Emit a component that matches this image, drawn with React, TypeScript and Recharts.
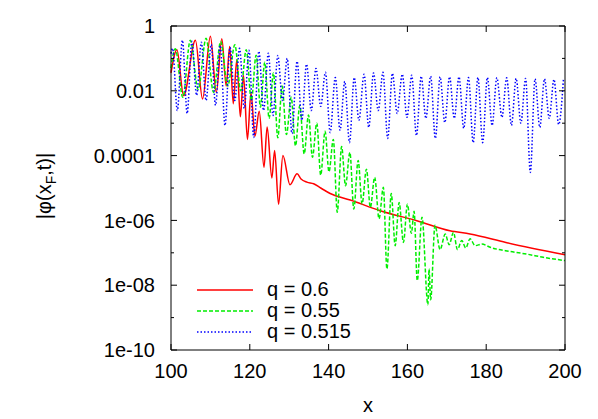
import React from "react";
import { LineChart, Line, XAxis, YAxis } from "recharts";

// [x, log10 |phi(x_F,t)|]
const q060: [number, number][] = [
  [100.0, -1.45], [101.5, -0.73], [103.2, -2.15], [106.2, -0.44], [108.0, -2.25],
  [110.0, -0.32], [111.5, -2.05], [112.9, -0.39], [114.0, -1.85], [114.9, -0.63],
  [115.8, -2.4], [116.7, -1.04], [117.6, -2.8], [118.4, -1.53], [119.4, -3.5],
  [120.3, -2.07], [121.3, -3.4], [122.4, -2.63], [123.6, -4.36], [124.4, -3.12],
  [125.6, -4.69], [126.3, -3.84], [127.3, -5.5], [128.4, -4.0], [130.2, -4.9],
  [132.0, -4.56], [133.0, -4.72], [134.5, -4.82], [136.2, -4.87], [138.0, -5.0],
  [140.4, -5.17], [145.5, -5.37], [153.1, -5.7], [162.4, -6.01], [170.8, -6.32],
  [175.9, -6.42], [185.0, -6.68], [200.0, -7.06],
];

const q055: [number, number][] = [
  [100.0, -1.3], [101.1, -0.7], [103.0, -2.2], [104.9, -0.44], [106.9, -1.96],
  [108.9, -0.38], [110.8, -2.05], [112.6, -0.48], [114.4, -1.85], [116.2, -0.58],
  [117.7, -2.0], [119.1, -0.73], [120.4, -2.3], [121.6, -0.9], [122.7, -2.5],
  [123.8, -1.12], [124.9, -2.85], [126.0, -1.45], [127.1, -3.45], [128.2, -1.85],
  [129.3, -3.35], [130.5, -2.2], [131.6, -3.7], [132.7, -2.45], [133.8, -3.95],
  [134.9, -2.75], [135.9, -4.05], [137.0, -3.0], [138.0, -4.6], [139.1, -3.25],
  [140.1, -4.5], [141.2, -3.5], [142.2, -5.75], [143.3, -3.72], [144.3, -4.93],
  [145.4, -3.9], [146.4, -5.65], [147.5, -4.15], [148.5, -5.49], [149.6, -4.42],
  [150.6, -5.6], [151.7, -4.67], [152.8, -5.95], [153.9, -4.98], [154.8, -7.5],
  [155.9, -5.17], [156.9, -6.78], [157.9, -5.45], [159.0, -6.68], [160.0, -5.5],
  [161.0, -6.4], [161.7, -5.72], [162.5, -7.86], [163.7, -5.9], [165.2, -8.6],
  [165.5, -7.5], [165.9, -8.45], [167.0, -6.15], [168.3, -6.9], [169.6, -6.42],
  [170.6, -6.75], [171.7, -6.37], [172.7, -6.9], [173.8, -6.62], [174.8, -6.85],
  [175.9, -6.57], [177.2, -6.78], [178.9, -6.73], [181.0, -6.83], [186.1, -6.96],
  [190.3, -7.04], [194.5, -7.14], [200.0, -7.24],
];

const q0515: [number, number][] = [
  [100.0, -0.85], [100.4, -0.69], [101.6, -2.61], [102.9, -0.44], [104.1, -2.7],
  [105.3, -0.47], [106.5, -2.14], [107.7, -0.5], [108.9, -2.3], [110.2, -0.57],
  [111.3, -2.45], [112.5, -0.6], [113.7, -3.07], [115.0, -0.66], [116.2, -2.3],
  [117.4, -0.69], [118.6, -2.54], [119.8, -0.75], [121.0, -3.44], [122.3, -0.78],
  [123.5, -2.61], [124.7, -0.84], [125.9, -2.76], [127.1, -0.91], [128.3, -2.3],
  [129.5, -1.0], [130.7, -3.32], [132.0, -1.09], [133.2, -2.91], [134.4, -1.18],
  [135.6, -2.61], [136.8, -1.31], [138.0, -2.48], [139.2, -1.43], [140.4, -3.29],
  [141.7, -1.59], [142.9, -3.22], [144.1, -1.71], [145.3, -3.6], [146.5, -1.59],
  [147.7, -2.91], [149.0, -1.49], [150.2, -3.13], [151.4, -1.45], [152.6, -2.61],
  [153.8, -1.43], [155.0, -3.47], [156.2, -1.46], [157.4, -2.7], [158.7, -1.49],
  [159.9, -2.82], [161.1, -1.52], [162.3, -3.38], [163.5, -1.55], [164.7, -2.85],
  [165.9, -1.55], [167.1, -3.47], [168.3, -1.57], [169.5, -2.98], [170.7, -1.57],
  [171.9, -2.85], [173.1, -1.57], [174.3, -3.16], [175.5, -1.59], [176.7, -3.6],
  [177.9, -1.59], [179.1, -3.6], [180.3, -1.59], [181.5, -3.07], [182.7, -1.6],
  [184.0, -2.82], [185.2, -1.6], [186.4, -3.07], [187.6, -1.62], [188.8, -3.0],
  [190.0, -1.62], [191.2, -4.52], [192.4, -1.63], [193.6, -3.13], [194.8, -1.63],
  [196.0, -2.85], [197.2, -1.65], [198.4, -3.04], [199.6, -1.65],
];

const xTicks = [100, 120, 140, 160, 180, 200];
const yMajor = [1, 1e-2, 1e-4, 1e-6, 1e-8, 1e-10];
const yMinor = [1e-1, 1e-3, 1e-5, 1e-7, 1e-9];
const yLabels = ["1", "0.01", "0.0001", "1e-06", "1e-08", "1e-10"];

const FONT = "'Liberation Sans', Arial, sans-serif";
const W = 598;
const H = 419;
const MARGIN = { top: 26, right: 33, bottom: 0, left: 0 };
const Y_AXIS_W = 171;
const X_AXIS_H = 69;
const xDomain: [number, number] = [100, 200];
const yDomain: [number, number] = [1e-10, 1];

// plot box edges (from the layout above)
const PL = MARGIN.left + Y_AXIS_W;
const PR = W - MARGIN.right;
const PT = MARGIN.top;
const PB = H - MARGIN.bottom - X_AXIS_H;
const MAJOR = 6;
const MINOR = 3;

const toPoints = (arr: [number, number][]) =>
  arr.map(([x, e]) => ({ x, y: Math.pow(10, e) }));

const series = [
  { name: "q = 0.6", data: toPoints(q060), color: "#ff0000", dash: undefined as string | undefined },
  { name: "q = 0.55", data: toPoints(q055), color: "#00ee00", dash: "4 2" },
  { name: "q = 0.515", data: toPoints(q0515), color: "#0000ff", dash: "1.5 2" },
];

const sameDecade = (a: number, b: number) => Math.abs(Math.log10(a) - Math.log10(b)) < 1e-6;

// y ticks: label on the left, inward tick marks on left and right border
const YTick = (props: any) => {
  const { y, payload } = props;
  const v = payload.value as number;
  const i = yMajor.findIndex((t) => sameDecade(t, v));
  const len = i >= 0 ? MAJOR : MINOR;
  return (
    <g>
      <line x1={PL} x2={PL + len} y1={y} y2={y} stroke="#000" />
      <line x1={PR} x2={PR - len} y1={y} y2={y} stroke="#000" />
      {sameDecade(v, yDomain[1]) && <line x1={PL} x2={PR} y1={y} y2={y} stroke="#000" />}
      {i >= 0 && (
        <text x={PL - 16} y={y} dy="0.355em" textAnchor="end" fontSize={20} fontFamily={FONT} fill="#000">
          {yLabels[i]}
        </text>
      )}
    </g>
  );
};

// x ticks: label below, inward tick marks on bottom and top border
const XTick = (props: any) => {
  const { x, payload } = props;
  const v = payload.value as number;
  return (
    <g>
      <line x1={x} x2={x} y1={PB} y2={PB - MAJOR} stroke="#000" />
      <line x1={x} x2={x} y1={PT} y2={PT + MAJOR} stroke="#000" />
      {v === xDomain[1] && <line x1={x} x2={x} y1={PT} y2={PB} stroke="#000" />}
      <text x={x} y={PB + 14} dy="0.71em" textAnchor="middle" fontSize={20} fontFamily={FONT} fill="#000">
        {v}
      </text>
    </g>
  );
};

const renderYLabel = (props: any) => {
  const vb = props.viewBox || { x: 0, y: PT, width: Y_AXIS_W, height: PB - PT };
  const cx = vb.x + 51;
  const cy = vb.y + vb.height / 2 - 2;
  return (
    <text
      x={cx}
      y={cy}
      transform={`rotate(-90, ${cx}, ${cy})`}
      textAnchor="middle"
      fontSize={20}
      fontFamily={FONT}
      fill="#000"
    >
      |φ(x
      <tspan dy={5} fontSize={14}>F</tspan>
      <tspan dy={-5}>,t)|</tspan>
    </text>
  );
};

// key box inside the plot, bottom left, like gnuplot's
const KeyBox = () => (
  <div style={{ position: "absolute", left: 197, top: 279, fontFamily: FONT, fontSize: 20, color: "#000" }}>
    {series.map((s) => (
      <div key={s.name} style={{ display: "flex", alignItems: "center", height: 21 }}>
        <svg width={56} height={6}>
          <line x1={0} y1={3} x2={56} y2={3} stroke={s.color} strokeWidth={1.5} strokeDasharray={s.dash} />
        </svg>
        <span style={{ marginLeft: 14, lineHeight: "21px" }}>{s.name}</span>
      </div>
    ))}
  </div>
);

export default function App() {
  return (
    <div style={{ position: "absolute", left: 0, top: 0, width: W, height: H }}>
      <LineChart width={W} height={H} margin={MARGIN}>
        <XAxis
          xAxisId="b"
          type="number"
          dataKey="x"
          domain={xDomain}
          ticks={xTicks}
          interval={0}
          height={X_AXIS_H}
          tickLine={false}
          stroke="#000"
          tick={XTick}
          label={{ value: "x", position: "insideBottom", offset: 7, fontSize: 20, fill: "#000", fontFamily: FONT }}
        />
        <YAxis
          yAxisId="main"
          type="number"
          scale="log"
          domain={yDomain}
          allowDataOverflow
          ticks={[...yMajor, ...yMinor]}
          interval={0}
          width={Y_AXIS_W}
          tickLine={false}
          stroke="#000"
          tick={YTick}
          label={renderYLabel}
        />
        {series.map((s) => (
          <Line
            key={s.name}
            xAxisId="b"
            yAxisId="main"
            data={s.data}
            dataKey="y"
            name={s.name}
            type="monotone"
            stroke={s.color}
            strokeWidth={1.5}
            strokeDasharray={s.dash}
            dot={false}
            isAnimationActive={false}
          />
        ))}
      </LineChart>
      <KeyBox />
    </div>
  );
}
